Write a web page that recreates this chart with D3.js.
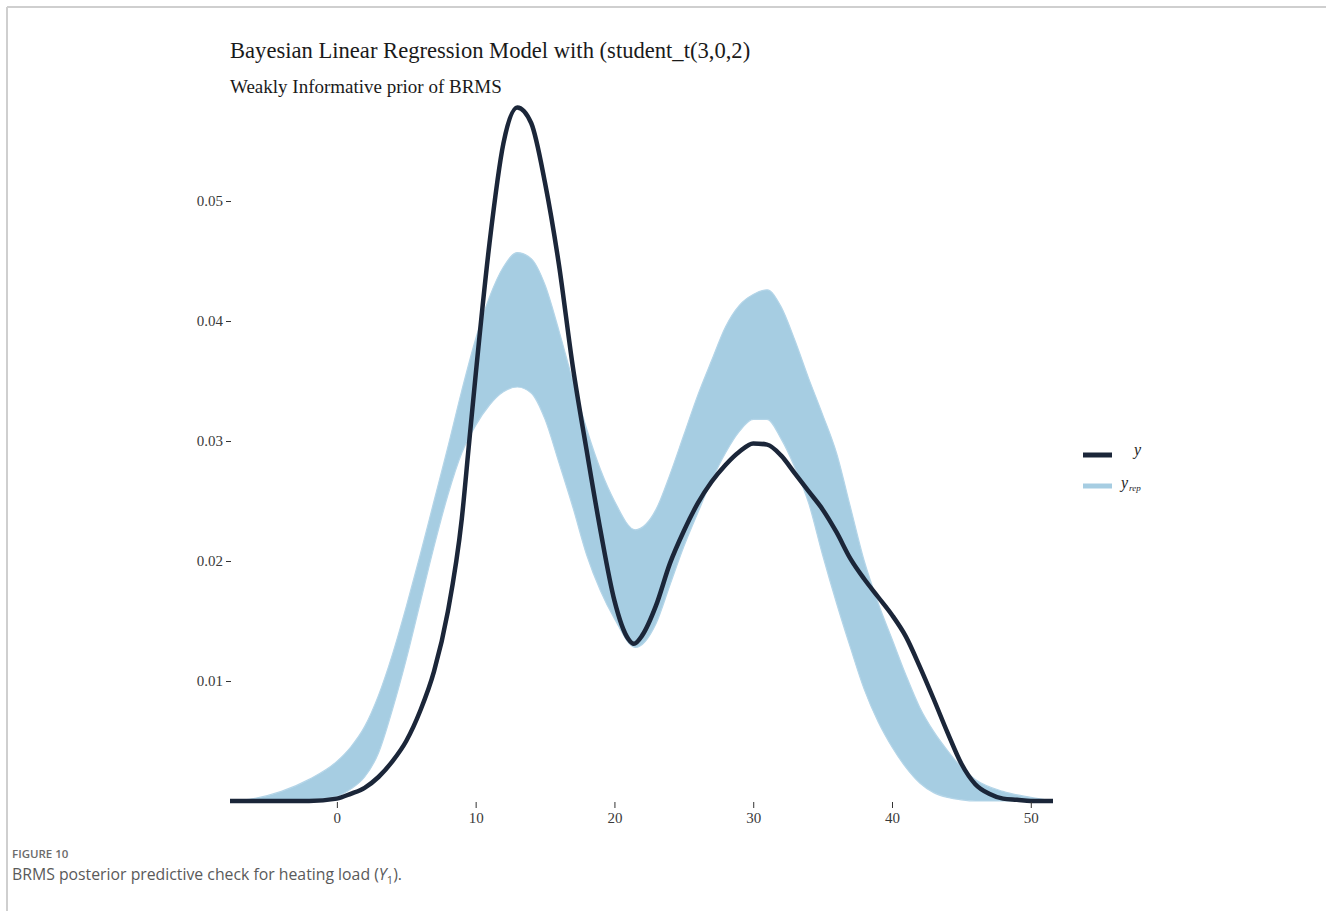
<!DOCTYPE html>
<html>
<head>
<meta charset="utf-8">
<script src="https://cdn.jsdelivr.net/npm/d3@7"></script>
<style>
  body { margin: 0; background: #fff; }
</style>
</head>
<body>
<div id="chart"></div>
<script>
(function () {

  // observed density (y)
  const obsX = [-7.7, -2, 0, 1, 2, 3, 4, 5, 6, 7, 8, 9, 9.5, 10, 11, 12, 13, 14, 15, 16, 17, 18, 19, 20, 21, 21.4, 22, 23, 24, 25, 26, 27, 28, 29, 30, 31, 32, 33, 34, 35, 36, 37, 38, 39, 40, 41, 42, 43, 44, 45, 46, 47, 48, 49, 50, 51.6]
  const obsY = [0, 0, 0.0002, 0.0006, 0.0011, 0.0020, 0.0033, 0.0050, 0.0075, 0.0108, 0.0158, 0.0235, 0.0295, 0.0355, 0.0465, 0.0548, 0.0578, 0.0565, 0.0515, 0.0447, 0.0362, 0.0292, 0.0225, 0.0167, 0.0135, 0.0131, 0.0138, 0.0163, 0.0198, 0.0225, 0.0248, 0.0266, 0.0280, 0.0291, 0.0298, 0.0297, 0.0288, 0.0273, 0.0258, 0.0243, 0.0224, 0.0202, 0.0185, 0.0170, 0.0155, 0.0137, 0.0112, 0.0085, 0.0057, 0.0031, 0.0014, 0.0006, 0.0002, 0.0001, 0, 0]

  // replicated densities (y_rep), read as the envelope of the draws
  const repX = [-7.7, -6, -4, -2, 0, 1, 2, 3, 4, 5, 6, 7, 8, 9, 10, 11, 12, 13, 14, 15, 16, 17, 18, 19, 20, 21.5, 23, 24, 25, 26, 27, 28, 29, 30, 31, 32, 33, 34, 35, 36, 37, 38, 39, 40, 41, 42, 43, 44, 45, 46, 48, 50, 51.6]
  const repUpper = [0, 0.0002, 0.0008, 0.0018, 0.0033, 0.0045, 0.0062, 0.0088, 0.0122, 0.0162, 0.0205, 0.0250, 0.0295, 0.0342, 0.0385, 0.0420, 0.0445, 0.0457, 0.0452, 0.0430, 0.0392, 0.0350, 0.0310, 0.0276, 0.0250, 0.0226, 0.0243, 0.0272, 0.0305, 0.0338, 0.0367, 0.0395, 0.0413, 0.0422, 0.0426, 0.0412, 0.0384, 0.0352, 0.0322, 0.0290, 0.0245, 0.0200, 0.0165, 0.0135, 0.0105, 0.0078, 0.0058, 0.0042, 0.0028, 0.0018, 0.0008, 0.0003, 0]
  const repLower = [0, 0, 0, 0.0001, 0.0004, 0.0010, 0.0020, 0.0040, 0.0076, 0.0118, 0.0165, 0.0212, 0.0255, 0.0290, 0.0313, 0.0330, 0.0341, 0.0345, 0.0340, 0.0318, 0.0282, 0.0245, 0.0205, 0.0175, 0.0152, 0.0128, 0.0148, 0.0180, 0.0212, 0.0240, 0.0267, 0.0290, 0.0308, 0.0318, 0.0318, 0.0302, 0.0278, 0.0248, 0.0205, 0.0165, 0.0128, 0.0093, 0.0066, 0.0045, 0.0028, 0.0015, 0.0007, 0.0003, 0.0001, 0, 0, 0, 0]

  const xTicks = [0, 10, 20, 30, 40, 50]
  const yTicks = [0.01, 0.02, 0.03, 0.04, 0.05]

  const darkCol = "#1b2639"
  const lightCol = "#a6cde2"
  const serif = "'Liberation Serif', 'DejaVu Serif', serif"

  const svg = d3.select("#chart").append("svg")
      .attr("width", 1329)
      .attr("height", 911)

  // journal frame
  svg.append("line").attr("x1", 7).attr("x2", 1326).attr("y1", 7).attr("y2", 7)
      .attr("stroke", "#cfcfcf").attr("stroke-width", 2)
  svg.append("line").attr("x1", 7).attr("x2", 7).attr("y1", 7).attr("y2", 911)
      .attr("stroke", "#cfcfcf").attr("stroke-width", 2)

  const xScale = d3.scaleLinear().domain([-7.7, 51.6]).range([230, 1053])
  const yScale = d3.scaleLinear().domain([0, 0.05]).range([801, 201])

  // title
  svg.append("text")
      .attr("x", 230).attr("y", 58)
      .style("font-family", serif)
      .attr("font-size", 22.6)
      .attr("fill", "#1a1a1a")
      .text("Bayesian Linear Regression Model with (student_t(3,0,2)")
  svg.append("text")
      .attr("x", 230).attr("y", 93)
      .style("font-family", serif)
      .attr("font-size", 19)
      .attr("fill", "#1a1a1a")
      .text("Weakly Informative prior of BRMS")

  // y_rep band
  const band = repX.map((x, i) => ({ x: x, lo: repLower[i], hi: repUpper[i] }))
  const area = d3.area()
      .x(d => xScale(d.x))
      .y0(d => yScale(d.lo))
      .y1(d => yScale(d.hi))
      .curve(d3.curveMonotoneX)
  svg.append("path")
      .datum(band)
      .attr("d", area)
      .attr("fill", lightCol)

  const edgeLine = key => d3.line()
      .x(d => xScale(d.x))
      .y(d => yScale(d[key]))
      .curve(d3.curveMonotoneX)
  ;["lo", "hi"].forEach(k => {
    svg.append("path")
      .datum(band)
      .attr("d", edgeLine(k))
      .attr("fill", "none")
      .attr("stroke", "#b4d5e8")
      .attr("stroke-width", 1.2)
  })

  // observed y
  const obs = obsX.map((x, i) => ({ x: x, y: obsY[i] }))
  svg.append("path")
      .datum(obs)
      .attr("d", d3.line().x(d => xScale(d.x)).y(d => yScale(d.y)).curve(d3.curveMonotoneX))
      .attr("fill", "none")
      .attr("stroke", darkCol)
      .attr("stroke-width", 4.5)
      .attr("stroke-linejoin", "round")

  // axes (no axis line, just ticks + labels)
  const yAxis = svg.append("g")
      .attr("transform", "translate(231,0)")
      .call(d3.axisLeft(yScale).tickValues(yTicks).tickFormat(d3.format(".2f")).tickSize(5).tickPadding(3))
  const xAxis = svg.append("g")
      .attr("transform", "translate(0,802)")
      .call(d3.axisBottom(xScale).tickValues(xTicks).tickSize(6).tickPadding(4))
  ;[xAxis, yAxis].forEach(a => {
    a.attr("font-family", serif).attr("font-size", 15)
    a.select(".domain").remove()
    a.selectAll("line").attr("stroke", "#333").attr("stroke-width", 1)
    a.selectAll("text").attr("fill", "#3a3a3a")
  })

  // legend
  const legend = svg.append("g").style("font-family", serif)
  legend.append("line").attr("x1", 1083).attr("x2", 1112).attr("y1", 455).attr("y2", 455)
      .attr("stroke", darkCol).attr("stroke-width", 5)
  legend.append("line").attr("x1", 1083).attr("x2", 1112).attr("y1", 486).attr("y2", 486)
      .attr("stroke", lightCol).attr("stroke-width", 5)
  legend.append("text").attr("x", 1134).attr("y", 455)
      .attr("font-size", 16).attr("font-style", "italic").attr("fill", "#222")
      .text("y")
  const rep = legend.append("text").attr("x", 1121).attr("y", 488)
      .attr("font-size", 16).attr("font-style", "italic").attr("fill", "#222")
  rep.append("tspan").text("y")
  rep.append("tspan").attr("font-size", 9).attr("dy", 3).attr("dx", 1).text("rep")

  // caption
  svg.append("text")
      .attr("x", 12).attr("y", 858)
      .style("font-family", "'Open Sans', sans-serif")
      .attr("font-size", 11.5)
      .attr("font-weight", 600)
      .attr("fill", "#6b6b6b")
      .text("FIGURE 10")
  const cap = svg.append("text")
      .attr("x", 12).attr("y", 880)
      .style("font-family", "'Open Sans', sans-serif")
      .attr("font-size", 15.8)
      .attr("fill", "#5a5a5a")
  cap.append("tspan").text("BRMS posterior predictive check for heating load (")
  cap.append("tspan").attr("font-style", "italic").text("Y")
  cap.append("tspan").attr("font-size", 11).attr("dy", 4).text("1")
  cap.append("tspan").attr("dy", -4).text(").")

})();
</script>
</body>
</html>
